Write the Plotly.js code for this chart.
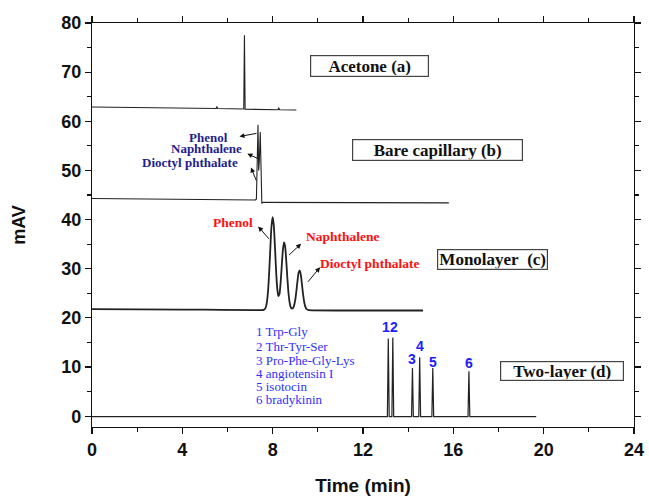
<!DOCTYPE html>
<html><head><meta charset="utf-8">
<script src="https://cdn.plot.ly/plotly-3.0.1.min.js"></script>
<style>html,body{margin:0;padding:0;background:#fff}#chart{width:649px;height:496px}</style>
</head><body><div id="chart"></div>
<script>
// ---- data ----
const acetoneTime   = [0, 3, 5.5, 5.53, 5.56, 6.72, 6.75, 6.78, 8.24, 8.27, 8.30, 9.05];
const acetoneSignal = [62.9, 62.7, 62.6, 63.0, 62.6, 62.5, 77.5, 62.45, 62.35, 62.8, 62.35, 62.3];

const bareTime   = [0, 3, 6, 7.24, 7.28, 7.32, 7.35, 7.38, 7.41, 7.45, 7.48, 7.52, 7.58, 10, 13, 15.8];
const bareSignal = [44.3, 44.15, 44.05, 44.0, 44.2, 55.0, 59.3, 50.0, 52.0, 57.8, 50.0, 43.3, 43.5, 43.5, 43.4, 43.4];

const monoTime = [0, 4, 7.5, 7.6, 7.65, 7.7, 7.75, 7.8, 7.85, 7.9, 7.95, 8.0, 8.05, 8.1, 8.15, 8.2, 8.25, 8.3,
  8.35, 8.4, 8.45, 8.5, 8.55, 8.6, 8.65, 8.7, 8.75, 8.8, 8.85, 8.9, 8.95, 9.0, 9.05, 9.1, 9.15, 9.2, 9.25,
  9.3, 9.35, 9.4, 9.45, 9.5, 9.55, 9.6, 12, 14.66];
const monoSignal = [21.8, 21.7, 21.6, 21.65, 21.78, 22.22, 23.38, 25.76, 29.67, 34.55, 38.8, 40.5, 38.8, 34.57,
  29.77, 26.12, 24.45, 24.83, 27.02, 30.39, 33.66, 35.35, 34.59, 31.76, 28.18, 25.12, 23.17, 22.2, 21.87, 21.98,
  22.53, 23.67, 25.46, 27.56, 29.22, 29.67, 28.67, 26.73, 24.68, 23.13, 22.23, 21.81, 21.66, 21.6, 21.5, 21.5];

const twoTime = [0, 5, 10, 13.08, 13.12, 13.16, 13.28, 13.32, 13.36, 14.15, 14.19, 14.23, 14.47, 14.51, 14.55,
  15.05, 15.09, 15.13, 16.65, 16.69, 16.73, 17.5, 17.6, 18.0, 18.1, 19.67];
const twoSignal = [-0.1, -0.1, -0.1, -0.1, 15.8, -0.1, -0.1, 16.0, -0.1, -0.1, 9.8, -0.1, -0.1, 12.0, -0.1,
  -0.1, 9.8, -0.1, -0.1, 9.15, -0.1, -0.1, 0.0, 0.0, -0.1, -0.1];

const traceLabels = ["Acetone (a)", "Bare capillary (b)", "Monolayer\u00a0\u00a0(c)", "Two-layer (d)"];
const bareLabels = ["Phenol", "Naphthalene", "Dioctyl phthalate"];
const monoLabels = ["Phenol", "Naphthalene", "Dioctyl phthalate"];
const peptideList = ["1 Trp-Gly", "2 Thr-Tyr-Ser", "3 Pro-Phe-Gly-Lys", "4 angiotensin I", "5 isotocin", "6 bradykinin"];
const peakNumbers = ["1", "2", "3", "4", "5", "6"];

// ---- chart ----
const lineCol = '#222';
const traces = [
  {x: acetoneTime, y: acetoneSignal, mode: 'lines', line: {color: lineCol, width: 1.1}},
  {x: bareTime, y: bareSignal, mode: 'lines', line: {color: lineCol, width: 1.1}},
  {x: monoTime, y: monoSignal, mode: 'lines', line: {color: lineCol, width: 1.8, shape: 'spline', smoothing: 0.6}},
  {x: twoTime, y: twoSignal, mode: 'lines', line: {color: lineCol, width: 1.2}}
];

const serif = 'Liberation Serif, Times New Roman, serif';
const sans = 'Liberation Sans, Arial, sans-serif';
const ann = [];

// boxed trace labels
const boxPos = [[12.30, 71.2, 115, 18], [15.29, 54.2, 167, 18], [17.75, 31.9, 107, 17], [20.81, 9.1, 120, 16]];
traceLabels.forEach((t, i) => {
  ann.push({x: boxPos[i][0], y: boxPos[i][1], xref: 'x', yref: 'y', text: '<b>' + t + '</b>', showarrow: false,
    font: {family: serif, size: 17, color: '#111'}, bordercolor: '#444', borderwidth: 1.2, borderpad: 1,
    bgcolor: '#fff', width: boxPos[i][2], height: boxPos[i][3]});
});

// bare capillary labels (navy)
const navy = '#1f1f8f';
const barePos = [[5.17, 56.7], [5.06, 54.4], [4.35, 51.6]];
bareLabels.forEach((t, i) => {
  ann.push({x: barePos[i][0], y: barePos[i][1], xref: 'x', yref: 'y', text: '<b>' + t + '</b>', showarrow: false,
    font: {family: serif, size: 13, color: navy}});
});
const bareArrows = [[6.53, 56.9, 7.35, 57.6], [6.88, 53.4, 7.45, 52.2], [7.04, 50.6, 7.30, 47.65]];
bareArrows.forEach(a => ann.push({x: a[0], y: a[1], ax: a[2], ay: a[3], xref: 'x', yref: 'y', axref: 'x', ayref: 'y',
  text: '', showarrow: true, arrowhead: 2, arrowsize: 1, arrowwidth: 1, arrowcolor: '#111'}));

// monolayer labels (red)
const monoPos = [[6.24, 39.4], [11.12, 36.5], [12.30, 31.06]];
monoLabels.forEach((t, i) => {
  ann.push({x: monoPos[i][0], y: monoPos[i][1], xref: 'x', yref: 'y', text: '<b>' + t + '</b>', showarrow: false,
    font: {family: serif, size: 13.5, color: '#ff1010'}});
});
const monoArrows = [[7.36, 38.6, 7.89, 35.8], [9.26, 35.1, 8.66, 32.5], [10.1, 30.3, 9.51, 27.05]];
monoArrows.forEach(a => ann.push({x: a[0], y: a[1], ax: a[2], ay: a[3], xref: 'x', yref: 'y', axref: 'x', ayref: 'y',
  text: '', showarrow: true, arrowhead: 2, arrowsize: 1, arrowwidth: 1, arrowcolor: '#111'}));

// peptide list
const pepY = [17.14, 14.24, 11.25, 8.68, 5.96, 3.40];
peptideList.forEach((t, i) => {
  ann.push({x: 7.18, y: pepY[i], xref: 'x', yref: 'y', text: t, showarrow: false, xanchor: 'left',
    font: {family: serif, size: 13, color: '#3030ff'}});
});

// peak numbers
const numPos = [[13.04, 18.1], [13.37, 18.1], [14.17, 11.6], [14.51, 14.3], [15.12, 11.05], [16.71, 10.85]];
peakNumbers.forEach((t, i) => {
  ann.push({x: numPos[i][0], y: numPos[i][1], xref: 'x', yref: 'y', text: '<b>' + t + '</b>', showarrow: false,
    font: {family: sans, size: 14, color: '#2020ff'}});
});

const axisCommon = {
  showgrid: false, zeroline: false, showline: true, linecolor: '#111', linewidth: 1.2,
  mirror: 'ticks', ticks: 'outside', ticklen: 6, tickwidth: 1.2, tickcolor: '#111',
  tickfont: {family: sans, size: 18, color: '#111', weight: 'bold'}
};

const layout = {
  width: 649, height: 496,
  margin: {l: 92, r: 15, t: 23, b: 69},
  paper_bgcolor: '#fff', plot_bgcolor: '#fff',
  showlegend: false,
  xaxis: Object.assign({}, axisCommon, {range: [0, 24], dtick: 4, tick0: 0,
    minor: {dtick: 2, ticks: 'outside', ticklen: 4, tickcolor: '#111', tickwidth: 1.2},
    title: {text: 'Time (min)', font: {family: sans, size: 19, color: '#111', weight: 'bold'}, standoff: 20}}),
  yaxis: Object.assign({}, axisCommon, {range: [-2.2, 80], dtick: 10, tick0: 0,
    minor: {dtick: 5, ticks: 'outside', ticklen: 4, tickcolor: '#111', tickwidth: 1.2},
    title: {text: 'mAV', font: {family: sans, size: 18, color: '#111', weight: 'bold'}, standoff: 30}}),
  annotations: ann
};

Plotly.newPlot('chart', traces, layout, {displayModeBar: false, staticPlot: true});
</script>
</body></html>
